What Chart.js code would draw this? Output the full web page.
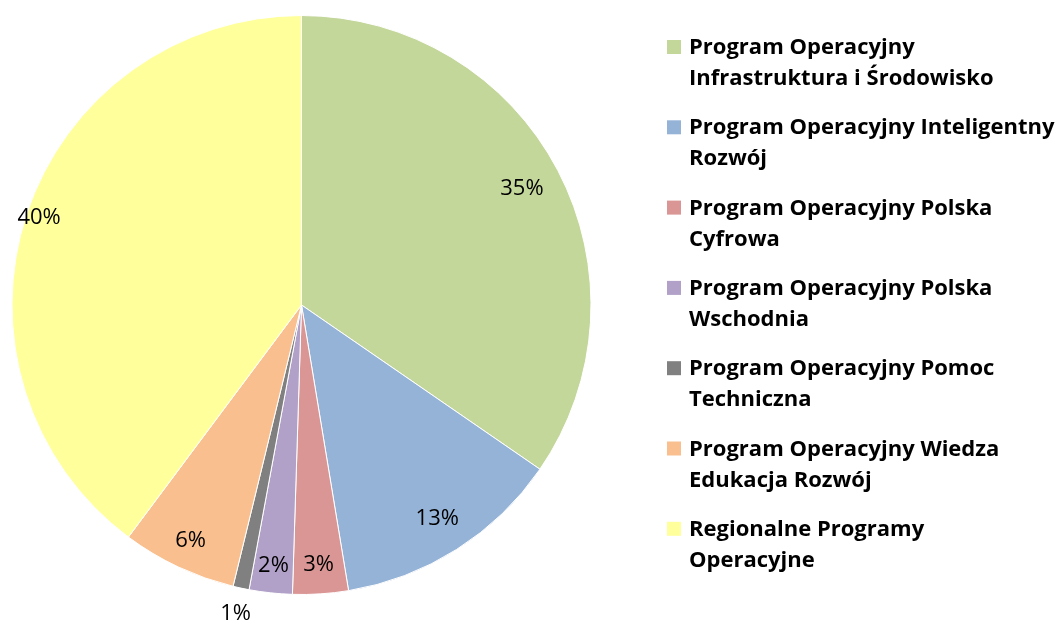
<!DOCTYPE html>
<html>
<head>
<meta charset="utf-8">
<script src="https://cdn.jsdelivr.net/npm/chart.js@4.4.1/dist/chart.umd.min.js"></script>
<style>
  html, body { margin: 0; padding: 0; background: #ffffff; }
  #wrap { width: 1059px; height: 625px; position: relative; }
</style>
</head>
<body>
<div id="wrap"><canvas id="c" width="1059" height="625"></canvas></div>
<script>
// ---- data ----
const categories = [
  ['Program Operacyjny', 'Infrastruktura i Środowisko'],
  ['Program Operacyjny Inteligentny', 'Rozwój'],
  ['Program Operacyjny Polska', 'Cyfrowa'],
  ['Program Operacyjny Polska', 'Wschodnia'],
  ['Program Operacyjny Pomoc', 'Techniczna'],
  ['Program Operacyjny Wiedza', 'Edukacja Rozwój'],
  ['Regionalne Programy', 'Operacyjne']
];
const shares = [34.6, 12.8, 3.1, 2.4, 0.9, 6.4, 39.8];
const sliceColors = ['#C4D79B', '#95B3D7', '#DA9694', '#B1A0C7', '#808080', '#FABF8F', '#FFFF9B'];
// radial position of each percentage label (fraction of radius)
const labelRadius = [0.86, 0.875, 0.9, 0.907, 1.09, 0.9, 0.955];

const FONT = '"Open Sans", Lato, "DejaVu Sans", sans-serif';

const pctLabels = {
  id: 'pctLabels',
  afterDatasetsDraw(chart) {
    const ctx = chart.ctx;
    const meta = chart.getDatasetMeta(0);
    const data = chart.data.datasets[0].data;
    const total = data.reduce((a, b) => a + b, 0);
    ctx.save();
    ctx.font = '22px ' + FONT;
    ctx.fillStyle = '#000';
    ctx.textAlign = 'center';
    ctx.textBaseline = 'middle';
    meta.data.forEach((arc, i) => {
      const p = arc.getProps(['x', 'y', 'startAngle', 'endAngle', 'outerRadius'], true);
      const mid = (p.startAngle + p.endAngle) / 2;
      const r = p.outerRadius * labelRadius[i];
      const x = p.x + Math.cos(mid) * r;
      const y = p.y + Math.sin(mid) * r;
      ctx.fillText(Math.round(data[i] / total * 100) + '%', x, y);
    });
    ctx.restore();
  }
};

const sideLegend = {
  id: 'sideLegend',
  afterDraw(chart) {
    const ctx = chart.ctx;
    const labels = chart.data.labels;
    const colors = chart.data.datasets[0].backgroundColor;
    const boxX = 667, textX = 689, firstBase = 54, itemStep = 80.3, lineStep = 31, box = 14;
    ctx.save();
    ctx.font = 'bold 22px ' + FONT;
    ctx.fillStyle = '#000';
    ctx.textAlign = 'left';
    ctx.textBaseline = 'alphabetic';
    labels.forEach((lab, i) => {
      const base = firstBase + i * itemStep;
      ctx.fillStyle = colors[i];
      ctx.fillRect(boxX, base - box, box, box);
      ctx.fillStyle = '#000';
      const lines = Array.isArray(lab) ? lab : [lab];
      lines.forEach((ln, j) => ctx.fillText(ln, textX, base + j * lineStep));
    });
    ctx.restore();
  }
};

new Chart(document.getElementById('c'), {
  type: 'pie',
  data: {
    labels: categories,
    datasets: [{
      data: shares,
      backgroundColor: sliceColors,
      borderColor: '#ffffff',
      borderWidth: 1
    }]
  },
  options: {
    responsive: false,
    animation: false,
    layout: { padding: { left: 11.5, top: 15, right: 467.5, bottom: 30 } },
    plugins: {
      legend: { display: false },
      tooltip: { enabled: false }
    }
  },
  plugins: [pctLabels, sideLegend]
});
</script>
</body>
</html>
